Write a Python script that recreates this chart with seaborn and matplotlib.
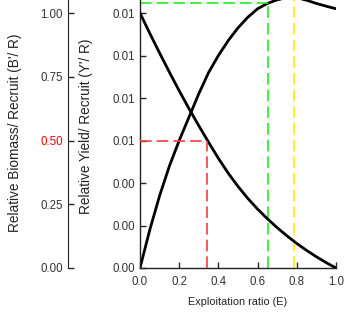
import matplotlib
matplotlib.use("Agg")
import matplotlib.pyplot as plt
import seaborn as sns
import pandas as pd
from matplotlib.ticker import FormatStrFormatter

sns.set_style("ticks")
plt.rcParams['font.family'] = ['Liberation Sans', 'DejaVu Sans']

E = [0, 0.05, 0.1, 0.15, 0.2, 0.25, 0.3, 0.35, 0.4, 0.45, 0.5,
     0.55, 0.6, 0.65, 0.7, 0.75, 0.8, 0.85, 0.9, 0.95, 1.0]
yield_r = [0, 0.0018, 0.0034, 0.0048, 0.0060, 0.0071, 0.0082, 0.0092, 0.0100,
           0.0107, 0.0113, 0.0118, 0.0122, 0.01245, 0.01262, 0.01272, 0.01272,
           0.0126, 0.01245, 0.01232, 0.0122]
biomass_r = [1.0, 0.92, 0.843, 0.768, 0.695, 0.625, 0.558, 0.493, 0.430, 0.372,
             0.320, 0.273, 0.231, 0.193, 0.158, 0.126, 0.096, 0.069, 0.044,
             0.021, 0.0]

E50 = 0.34
E10 = 0.653
Emax = 0.786
Y_E10 = 0.01247

x_ticks = [0.0, 0.2, 0.4, 0.6, 0.8, 1.0]
y_ticks = [0, 0.002, 0.004, 0.006, 0.008, 0.010, 0.012]
b_ticks = [0.0, 0.25, 0.5, 0.75, 1.0]

df = pd.DataFrame({"E": E, "Y": yield_r, "B": biomass_r})

dpi = 100
fig = plt.figure(figsize=(3.49, 3.20), dpi=dpi)
ax = fig.add_axes([140/349, 52/320, 196/349, 268/320])
ytop = 0.012 * 268 / 255
btop = 1.0 * 268 / 255

tc = '#333333'
sns.lineplot(data=df, x="E", y="Y", ax=ax, color='black', lw=2)
ax.set_xlim(0, 1.0)
ax.set_ylim(0, ytop)
ax.set_xticks(x_ticks)
ax.set_yticks(y_ticks)
ax.yaxis.set_major_formatter(FormatStrFormatter('%.2f'))
ax.xaxis.set_major_formatter(FormatStrFormatter('%.1f'))
ax.tick_params(direction='in', length=4, width=1, labelsize=8.3, labelcolor=tc, pad=3.5)
ax.tick_params(axis='x', pad=5.5)
for s in ['top', 'right']:
    ax.spines[s].set_visible(False)
for s in ['left', 'bottom']:
    ax.spines[s].set_color('#222222')
    ax.spines[s].set_linewidth(1)

ax.set_xlabel("Exploitation ratio (E)", fontsize=7.8, color='#222222')
ax.set_ylabel("Relative Yield/ Recruit (Y'/ R)", fontsize=9.8, color='#222222')
ax.yaxis.set_label_coords((93-140)/196, (268-126)/268)
ax.xaxis.set_label_coords(0.5, -(297-268)/268)

ax2 = ax.twinx()
sns.lineplot(data=df, x="E", y="B", ax=ax2, color='black', lw=2)
ax2.set_ylim(0, btop)
ax2.set_xlim(0, 1.0)
ax2.yaxis.tick_left()
ax2.yaxis.set_label_position('left')
ax2.spines['left'].set_position(('outward', 72 * 72 / dpi))
for s in ['top', 'right', 'bottom']:
    ax2.spines[s].set_visible(False)
ax2.spines['left'].set_color('#222222')
ax2.set_yticks(b_ticks)
ax2.yaxis.set_major_formatter(FormatStrFormatter('%.2f'))
ax2.tick_params(axis='y', direction='in', length=4, width=1, labelsize=8.3, labelcolor=tc, pad=3.5)
ax2.get_yticklabels()[2].set_color('red')
ax2.yaxis.get_major_ticks()[2].tick1line.set_color('red')
ax2.set_ylabel("Relative Biomass/ Recruit (B'/ R)", fontsize=9.8, color='#222222')
ax2.yaxis.set_label_coords((22-140)/196, (268-133)/268)

dash = (0, (7, 3))
# red: E50
ax2.plot([0, E50], [0.5, 0.5], color='#ff3b3b', lw=1.2, ls=dash)
ax2.plot([E50, E50], [0, 0.5], color='#ff3b3b', lw=1.2, ls=dash)
# green: E0.1
ax.plot([0, E10], [Y_E10, Y_E10], color='#22ee22', lw=1.2, ls=dash)
ax.plot([E10, E10], [0, Y_E10], color='#22ee22', lw=1.2, ls=dash)
# yellow: Emax
ax.plot([Emax, Emax], [0, ytop], color='#ffee00', lw=1.2, ls=dash)

fig.savefig("out.png", dpi=dpi)
